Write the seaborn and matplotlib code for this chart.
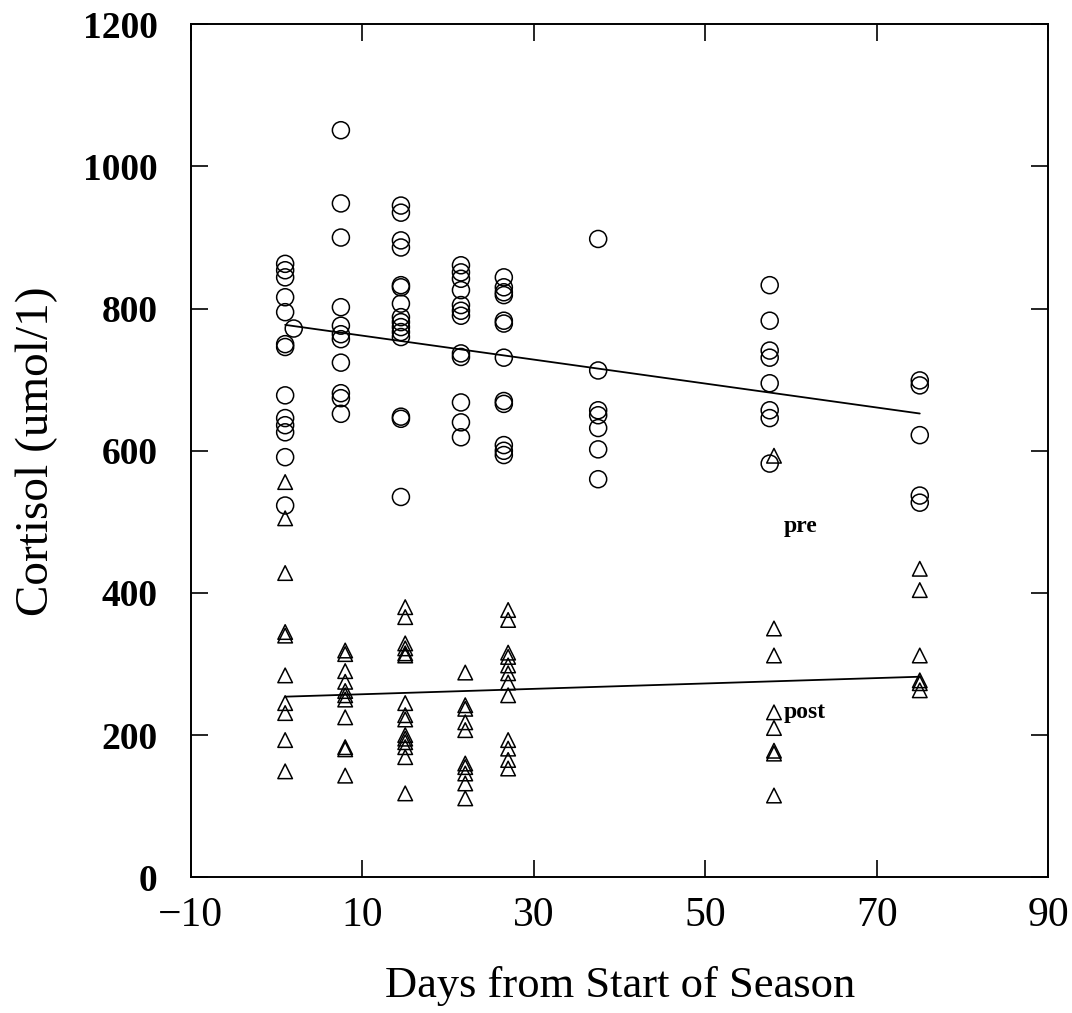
import pandas as pd
import matplotlib
matplotlib.use('Agg')
import matplotlib.pyplot as plt
import seaborn as sns

# 由圖估計的數值
pre_days = [1] * 13 + [2] + [7.5] * 11 + [14.5] * 15 + [21.5] * 12 + [26.5] * 12 + [37.5] * 7 + [57.5] * 8 + [75] * 5
pre_cortisol = [863, 854, 844, 816, 795, 750, 746, 678, 646, 636, 626, 591, 523, 772,
                1051, 948, 900, 802, 776, 764, 757, 724, 681, 674, 652,
                945, 935, 896, 886, 833, 830, 807, 788, 781, 774, 767, 760, 648, 645, 535,
                861, 851, 842, 826, 805, 797, 790, 737, 732, 668, 640, 619,
                844, 830, 823, 819, 783, 779, 731, 670, 666, 608, 600, 594,
                898, 713, 657, 650, 632, 602, 560,
                833, 783, 741, 731, 695, 657, 646, 582,
                699, 692, 622, 537, 527]

post_days = [1] * 10 + [8] * 11 + [15] * 15 + [22] * 10 + [27] * 12 + [58] * 8 + [75] * 6
post_cortisol = [556, 505, 428, 345, 340, 284, 245, 231, 193, 149,
                 319, 314, 290, 275, 262, 256, 250, 225, 183, 180, 143,
                 380, 366, 329, 322, 315, 312, 245, 228, 222, 200, 195, 190, 183, 169, 118,
                 288, 242, 237, 218, 207, 160, 155, 146, 132, 111,
                 376, 362, 316, 310, 298, 287, 274, 256, 193, 181, 165, 153,
                 593, 350, 312, 232, 210, 178, 174, 115,
                 434, 404, 312, 277, 273, 263]

x_ticks = [-10, 10, 30, 50, 70, 90]
y_ticks = [0, 200, 400, 600, 800, 1000, 1200]

pre_df = pd.DataFrame({'days': pre_days, 'cortisol': pre_cortisol})
post_df = pd.DataFrame({'days': post_days, 'cortisol': post_cortisol})

sns.set_theme(style='ticks')
plt.rcParams['font.family'] = ['Liberation Serif', 'DejaVu Serif']
plt.rcParams['text.color'] = 'black'
plt.rcParams['axes.labelcolor'] = 'black'
plt.rcParams['xtick.color'] = 'black'
plt.rcParams['ytick.color'] = 'black'

fig = plt.figure(figsize=(10.72, 10.13), dpi=100)
ax = fig.add_axes([0.178, 0.134, 0.8, 0.842])

sns.regplot(x='days', y='cortisol', data=pre_df, ax=ax, ci=None, marker='o',
            scatter_kws={'s': 150, 'facecolors': 'none', 'edgecolors': 'black',
                         'linewidths': 1.1, 'alpha': 1},
            line_kws={'color': 'black', 'linewidth': 1.3})
sns.regplot(x='days', y='cortisol', data=post_df, ax=ax, ci=None, marker='^',
            scatter_kws={'s': 110, 'facecolors': 'none', 'edgecolors': 'black',
                         'linewidths': 1.1, 'alpha': 1},
            line_kws={'color': 'black', 'linewidth': 1.3})

ax.set_xlim(-10, 90)
ax.set_ylim(0, 1200)
ax.set_xticks(x_ticks)
ax.set_yticks(y_ticks)
ax.set_xticklabels([str(t).replace('-', '\u2212') for t in x_ticks], fontsize=30)
ax.set_yticklabels([str(t) for t in y_ticks], fontsize=27, fontweight='bold')
ax.tick_params(direction='in', length=12, width=1.2, top=True, right=True)
ax.tick_params(axis='y', pad=24)
ax.tick_params(axis='x', pad=14)
for s in ax.spines.values():
    s.set_linewidth(1.4)
    s.set_color('black')

ax.set_xlabel('Days from Start of Season', fontsize=32, labelpad=22)
ax.set_ylabel('Cortisol (umol/1)', fontsize=34, labelpad=18)

ax.text(59.1, 493, 'pre', fontsize=17, fontweight='bold', va='center')
ax.text(59.1, 232, 'post', fontsize=17, fontweight='bold', va='center')

fig.savefig('out.png', dpi=100, facecolor='white')
